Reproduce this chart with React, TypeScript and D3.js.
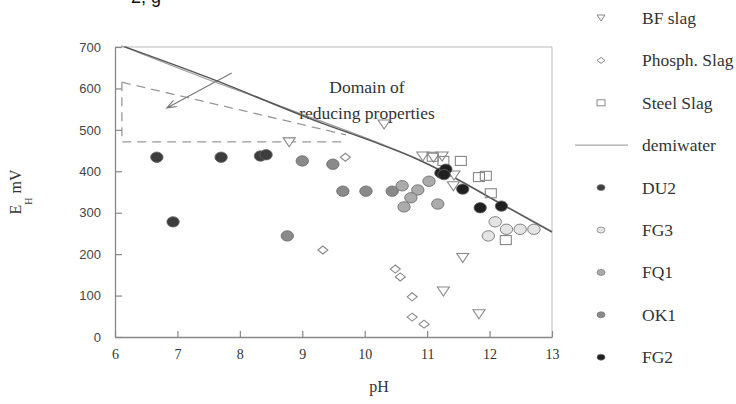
import React, { useEffect, useRef } from 'react';
import * as d3 from 'd3';

// tick values
const xTicks = [6, 7, 8, 9, 10, 11, 12, 13];
const yTicks = [0, 100, 200, 300, 400, 500, 600, 700];

// [pH, EH mV]
const bfSlag = [[8.79, 471], [10.31, 514], [10.93, 437], [11.1, 434], [11.24, 437], [11.43, 391], [11.42, 365], [11.57, 192], [11.26, 111], [11.83, 56]];
const phosphSlag = [[9.69, 434], [9.33, 210], [10.49, 164], [10.57, 145], [10.76, 97], [10.76, 48], [10.95, 31]];
const steelSlag = [[11.09, 435], [11.26, 425], [11.54, 425], [11.83, 386], [11.94, 389], [12.02, 347], [12.26, 234]];
const demiwaterA = [[6.15, 701], [7.5, 626], [9.3, 517], [10.2, 468], [10.8, 432], [11.24, 400], [12.2, 320], [13, 253]];
const demiwaterB = [[6.1, 703], [7.5, 621], [8.5, 566], [9.3, 521], [10.2, 470], [10.8, 433], [11.24, 401], [12.2, 321], [13, 255]];
const du2 = [[6.67, 434], [7.7, 434], [8.33, 437], [8.42, 440], [6.93, 278]];
const fg3 = [[12.09, 278], [12.27, 260], [12.49, 260], [12.71, 260], [11.98, 244]];
const fq1 = [[10.6, 365], [10.85, 355], [10.74, 336], [10.63, 314], [11.03, 376], [11.17, 321]];
const ok1 = [[9.0, 425], [9.49, 417], [9.65, 352], [10.02, 352], [10.44, 352], [8.76, 244]];
const fg2 = [[11.22, 396], [11.3, 405], [11.27, 392], [11.57, 357], [11.85, 312], [12.19, 316]];
const reducingDomain = [[6.11, 615], [6.11, 471], [9.7, 471]];
const reducingTop = [[6.11, 615], [9.7, 488]];
const arrow = [[7.87, 637], [6.83, 553]];

const legendItems = [
  { label: 'BF slag', kind: 'tri' },
  { label: 'Phosph. Slag', kind: 'dia' },
  { label: 'Steel Slag', kind: 'sq' },
  { label: 'demiwater', kind: 'line' },
  { label: 'DU2', kind: 'dot', fill: '#3d3d3d' },
  { label: 'FG3', kind: 'dot', fill: '#e4e4e4' },
  { label: 'FQ1', kind: 'dot', fill: '#ababab' },
  { label: 'OK1', kind: 'dot', fill: '#8a8a8a' },
  { label: 'FG2', kind: 'dot', fill: '#202020' }
];

const SERIF = '"Liberation Serif", "DejaVu Serif", serif';
const SANS = '"Liberation Sans", Arial, sans-serif';

export default function App() {
  const ref = useRef<SVGSVGElement | null>(null);

  useEffect(() => {
    const svg = d3.select(ref.current);
    svg.selectAll('*').remove();

    const x = d3.scaleLinear().domain([6, 13]).range([115, 552]);
    const y = d3.scaleLinear().domain([0, 700]).range([337, 47]);

    // frame (top + right)
    svg.append('path')
      .attr('d', `M${x(6)},${y(700)}H${x(13)}V${y(0)}`)
      .attr('fill', 'none').attr('stroke', '#bbb').attr('stroke-width', 1);

    // axes, ticks inside
    const xAxis = svg.append('g').attr('transform', `translate(0,${y(0)})`)
      .call(d3.axisBottom(x).tickValues(xTicks).tickFormat(d3.format('d')).tickSizeInner(-6).tickSizeOuter(0).tickPadding(12));
    const yAxis = svg.append('g').attr('transform', `translate(${x(6)},0)`)
      .call(d3.axisLeft(y).tickValues(yTicks).tickFormat(d3.format('d')).tickSizeInner(-7).tickSizeOuter(0).tickPadding(14));
    [xAxis, yAxis].forEach(g => {
      g.select('.domain').attr('stroke', '#888').attr('stroke-width', 1.3);
      g.selectAll('.tick line').attr('stroke', '#888').attr('stroke-width', 1.2);
    });
    xAxis.selectAll('.tick text').style('font-family', SERIF).style('font-size', '14px').attr('fill', '#333');
    yAxis.selectAll('.tick text').style('font-family', SANS).style('font-size', '13px').attr('fill', '#444');

    const line = d3.line<number[]>().x(d => x(d[0])).y(d => y(d[1])).curve(d3.curveMonotoneX);
    const poly = d3.line<number[]>().x(d => x(d[0])).y(d => y(d[1]));

    // reducing domain dashed triangle
    svg.append('path').attr('d', poly(reducingDomain))
      .attr('fill', 'none').attr('stroke', '#999').attr('stroke-width', 1.3).attr('stroke-dasharray', '9,6');
    svg.append('path').attr('d', poly(reducingTop))
      .attr('fill', 'none').attr('stroke', '#999').attr('stroke-width', 1.3).attr('stroke-dasharray', '9,6');

    // arrow
    const [a0, a1] = arrow;
    const x0 = x(a0[0]), y0 = y(a0[1]), x1 = x(a1[0]), y1 = y(a1[1]);
    const ang = Math.atan2(y1 - y0, x1 - x0);
    const hl = 10;
    svg.append('path')
      .attr('d', `M${x0},${y0}L${x1},${y1}` +
        `M${x1 - hl * Math.cos(ang - 0.35)},${y1 - hl * Math.sin(ang - 0.35)}L${x1},${y1}` +
        `L${x1 - hl * Math.cos(ang + 0.35)},${y1 - hl * Math.sin(ang + 0.35)}`)
      .attr('fill', 'none').attr('stroke', '#777').attr('stroke-width', 1.1);

    svg.append('text').attr('x', 367).attr('y', 93).attr('text-anchor', 'middle')
      .style('font-family', SERIF).style('font-size', '17.5px').attr('fill', '#333').text('Domain of');
    svg.append('text').attr('x', 367).attr('y', 119).attr('text-anchor', 'middle')
      .style('font-family', SERIF).style('font-size', '17.5px').attr('fill', '#333').text('reducing properties');

    // demiwater lines
    svg.append('path').attr('d', line(demiwaterB))
      .attr('fill', 'none').attr('stroke', '#999').attr('stroke-width', 1.2);
    svg.append('path').attr('d', line(demiwaterA))
      .attr('fill', 'none').attr('stroke', '#555').attr('stroke-width', 1.4);

    const stroke = '#888';
    const tri = 'M-6,-4L6,-4L0,5Z';
    const dia = 'M-5,0L0,-4L5,0L0,4Z';

    svg.append('g').selectAll('path').data(bfSlag).enter().append('path')
      .attr('transform', d => `translate(${x(d[0])},${y(d[1])})`).attr('d', tri)
      .attr('fill', 'white').attr('stroke', stroke).attr('stroke-width', 1.1);
    svg.append('g').selectAll('path').data(phosphSlag).enter().append('path')
      .attr('transform', d => `translate(${x(d[0])},${y(d[1])})`).attr('d', dia)
      .attr('fill', 'white').attr('stroke', stroke).attr('stroke-width', 1.1);
    svg.append('g').selectAll('rect').data(steelSlag).enter().append('rect')
      .attr('x', d => x(d[0]) - 5.5).attr('y', d => y(d[1]) - 4.5).attr('width', 11).attr('height', 9)
      .attr('fill', 'none').attr('stroke', stroke).attr('stroke-width', 1.1);

    const dots = (data: number[][], fill: string) => {
      svg.append('g').selectAll('ellipse').data(data).enter().append('ellipse')
        .attr('cx', d => x(d[0])).attr('cy', d => y(d[1])).attr('rx', 6.2).attr('ry', 5.2)
        .attr('fill', fill).attr('stroke', '#666').attr('stroke-width', 0.8);
    };
    dots(ok1, '#8a8a8a');
    dots(fq1, '#ababab');
    dots(fg3, '#e4e4e4');
    dots(du2, '#3d3d3d');
    dots(fg2, '#202020');

    // axis titles
    svg.append('text').attr('x', 379).attr('y', 392).attr('text-anchor', 'middle')
      .style('font-family', SERIF).style('font-size', '16px').attr('fill', '#333').text('pH');
    const yl = svg.append('text').attr('transform', 'translate(21,192) rotate(-90)').attr('text-anchor', 'middle')
      .style('font-family', SERIF).style('font-size', '16px').attr('fill', '#333');
    yl.append('tspan').text('E');
    yl.append('tspan').style('font-size', '10px').attr('dy', 11).text('H');
    yl.append('tspan').attr('dy', -11).attr('dx', 4).text('mV');

    // legend
    const lg = svg.append('g').selectAll('g').data(legendItems).enter().append('g')
      .attr('transform', (d, i) => `translate(601,${18 + i * 42.4})`);
    lg.append('text').attr('x', 41).attr('y', 6).style('font-family', SERIF).style('font-size', '17.5px')
      .attr('fill', '#333').text(d => d.label);
    lg.each(function (d) {
      const g = d3.select(this);
      if (d.kind === 'tri') g.append('path').attr('d', 'M-4,-3L4,-3L0,3Z').attr('fill', 'white').attr('stroke', stroke);
      if (d.kind === 'dia') g.append('path').attr('d', 'M-4,0L0,-3L4,0L0,3Z').attr('fill', 'white').attr('stroke', stroke);
      if (d.kind === 'sq') g.append('rect').attr('x', -4).attr('y', -3).attr('width', 8).attr('height', 6).attr('fill', 'white').attr('stroke', stroke);
      if (d.kind === 'line') g.append('line').attr('x1', -26).attr('x2', 27).attr('stroke', '#aaa').attr('stroke-width', 1.2);
      if (d.kind === 'dot') g.append('ellipse').attr('rx', 4).attr('ry', 3).attr('fill', d.fill).attr('stroke', '#777').attr('stroke-width', 0.7);
    });

    // cut-off caption fragment at top
    svg.append('text').attr('x', 131).attr('y', 3).style('font-family', SANS)
      .style('font-size', '18px').attr('fill', '#111').text('2, g');
  }, []);

  return (
    <svg ref={ref} width={736} height={404} style={{ position: 'absolute', left: 0, top: 0, background: 'white' }} />
  );
}
